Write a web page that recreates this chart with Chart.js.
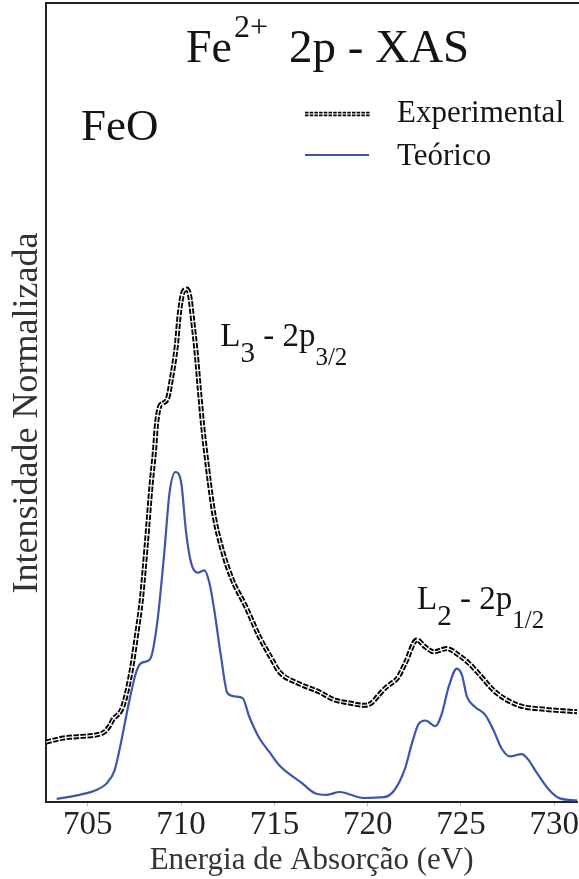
<!DOCTYPE html>
<html>
<head>
<meta charset="utf-8">
<script src="https://cdn.jsdelivr.net/npm/chart.js@4/dist/chart.umd.min.js"></script>
<style>
  html, body { margin: 0; padding: 0; background: #fff; overflow: hidden; }
  #wrap { width: 579px; height: 879px; }
</style>
</head>
<body>
<div id="wrap"><canvas id="c" width="579" height="879"></canvas></div>
<script>
// Fe2+ L-edge absorption of FeO: measured spectrum and calculated spectrum
const energyExp = [702.76, 703.68, 704.57, 705.46, 705.91, 706.18, 706.34, 706.87, 707.33, 707.60,
  707.87, 708.14, 708.40, 708.58, 708.67, 708.85, 709.02, 709.29, 709.47, 709.74,
  709.91, 710.09, 710.30, 710.45, 710.62, 710.81, 710.98, 711.16, 711.30, 711.52,
  711.78, 712.21, 712.75, 713.48, 714.19, 714.88, 715.26, 716.33, 717.39, 718.19,
  719.00, 719.80, 720.15, 720.60, 720.96, 721.29, 721.60, 722.02, 722.64, 723.09,
  723.54, 724.25, 724.87, 725.41, 725.94, 726.83, 728.08, 729.50, 731.23];
const intensityExp = [0.075, 0.080, 0.082, 0.084, 0.088, 0.096, 0.103, 0.119, 0.165, 0.207,
  0.253, 0.324, 0.399, 0.441, 0.470, 0.495, 0.499, 0.506, 0.528, 0.570,
  0.612, 0.637, 0.642, 0.635, 0.603, 0.562, 0.516, 0.470, 0.441, 0.399,
  0.357, 0.315, 0.278, 0.244, 0.207, 0.178, 0.163, 0.148, 0.138, 0.128,
  0.124, 0.121, 0.123, 0.134, 0.143, 0.149, 0.155, 0.174, 0.203, 0.194,
  0.188, 0.192, 0.184, 0.174, 0.161, 0.138, 0.121, 0.116, 0.113];

const energyTeo = [703.33, 704.57, 705.46, 706.00, 706.44, 706.75, 707.15, 707.60, 707.87, 708.31,
  708.49, 708.76, 709.11, 709.38, 709.70, 710.01, 710.27, 710.54, 710.89, 711.25,
  711.52, 711.78, 712.14, 712.49, 712.94, 713.30, 713.65, 714.19, 714.72, 715.26,
  716.46, 717.18, 717.82, 718.49, 719.78, 720.88, 721.44, 721.99, 722.38, 722.74,
  723.10, 723.63, 723.98, 724.34, 724.78, 725.05, 725.32, 725.76, 726.30, 726.74,
  727.18, 727.63, 728.25, 728.61, 728.97, 729.73, 730.30, 731.23];
const intensityTeo = [0.004, 0.009, 0.015, 0.023, 0.040, 0.071, 0.118, 0.163, 0.174, 0.178,
  0.190, 0.232, 0.315, 0.387, 0.413, 0.399, 0.337, 0.299, 0.287, 0.290,
  0.274, 0.240, 0.182, 0.136, 0.132, 0.130, 0.107, 0.080, 0.063, 0.046,
  0.024, 0.011, 0.009, 0.0125, 0.005, 0.006, 0.015, 0.041, 0.074, 0.098,
  0.102, 0.095, 0.111, 0.144, 0.167, 0.159, 0.132, 0.119, 0.109, 0.090,
  0.067, 0.057, 0.060, 0.053, 0.040, 0.015, 0.0045, 0.002];

const xTickValues = [705, 710, 715, 720, 725, 730];
const seriesNames = ['Experimental', 'Teórico'];

const SERIF = '"Liberation Serif", "DejaVu Serif", serif';
const BLUE = '#3d55ad';
const INK = '#141414';

const toPoints = (xs, ys) => xs.map((x, i) => ({ x, y: ys[i] }));

// Draws a run of text pieces (normal / sub / sup) starting at x on a baseline.
function drawRich(ctx, x, baseline, pieces) {
  let cx = x;
  for (const p of pieces) {
    ctx.font = p.size + 'px ' + SERIF;
    ctx.fillText(p.t, cx, baseline + (p.dy || 0));
    cx += ctx.measureText(p.t).width + (p.gap || 0);
  }
}

// The measured curve looks like a pair of parallel dashed black lines:
// a dashed black stroke with a thin white core running through it.
const OUTER_W = 5, OUTER_DASH = [5.5, 1.5], CORE_W = 1.2;
function doubleDash(ctx, x1, x2, y) {
  ctx.save();
  ctx.lineWidth = 4.4; ctx.strokeStyle = '#000'; ctx.setLineDash([3.5, 1.2]);
  ctx.beginPath(); ctx.moveTo(x1, y); ctx.lineTo(x2, y); ctx.stroke();
  ctx.lineWidth = CORE_W; ctx.strokeStyle = '#fff'; ctx.setLineDash([]);
  ctx.beginPath(); ctx.moveTo(x1 - 1, y); ctx.lineTo(x2 + 1, y); ctx.stroke();
  ctx.restore();
}

const decor = {
  id: 'decor',
  afterDraw(chart) {
    const { ctx, chartArea } = chart;
    const xs = chart.scales.x;
    ctx.save();
    // top frame line
    ctx.strokeStyle = '#222'; ctx.lineWidth = 2;
    ctx.beginPath(); ctx.moveTo(chartArea.left - 1, chartArea.top); ctx.lineTo(chart.width, chartArea.top); ctx.stroke();

    ctx.fillStyle = INK;
    ctx.textBaseline = 'alphabetic';
    ctx.textAlign = 'left';
    // title
    drawRich(ctx, 186, 62, [
      { t: 'Fe', size: 46, gap: 2 },
      { t: '2+', size: 32, dy: -25, gap: 21 },
      { t: '2p - XAS', size: 47 }
    ]);
    // sample name
    drawRich(ctx, 81, 140, [{ t: 'FeO', size: 45 }]);

    // legend
    doubleDash(ctx, 305, 370, 114);
    ctx.save();
    ctx.strokeStyle = BLUE; ctx.lineWidth = 2;
    ctx.beginPath(); ctx.moveTo(305, 155); ctx.lineTo(369, 155); ctx.stroke();
    ctx.restore();
    drawRich(ctx, 397, 122, [{ t: seriesNames[0], size: 31 }]);
    drawRich(ctx, 397, 165, [{ t: seriesNames[1], size: 31 }]);

    // edge labels
    drawRich(ctx, xs.getPixelForValue(712.1), 346, [
      { t: 'L', size: 33 },
      { t: '3', size: 29, dy: 16, gap: 0 },
      { t: ' - 2p', size: 33 },
      { t: '3/2', size: 25, dy: 19 }
    ]);
    drawRich(ctx, xs.getPixelForValue(722.65), 609, [
      { t: 'L', size: 33 },
      { t: '2', size: 29, dy: 16 },
      { t: ' - 2p', size: 33 },
      { t: '1/2', size: 25, dy: 19 }
    ]);

    // vertical axis title
    ctx.save();
    ctx.translate(28, 413);
    ctx.rotate(-Math.PI / 2);
    ctx.textAlign = 'center';
    ctx.textBaseline = 'middle';
    ctx.font = '36px ' + SERIF;
    ctx.fillStyle = '#333';
    ctx.fillText('Intensidade Normalizada', 0, 0);
    ctx.restore();
    ctx.restore();
  }
};

const lineBase = { pointRadius: 0, cubicInterpolationMode: 'monotone', fill: false };

new Chart(document.getElementById('c'), {
  type: 'line',
  data: {
    datasets: [
      // white core sits on top of the dashed black stroke (first dataset is painted last)
      { ...lineBase, label: seriesNames[0] + ' core', data: toPoints(energyExp, intensityExp),
        borderColor: '#fff', borderWidth: CORE_W },
      { ...lineBase, label: seriesNames[0], data: toPoints(energyExp, intensityExp),
        borderColor: '#000', borderWidth: OUTER_W, borderDash: OUTER_DASH },
      { ...lineBase, label: seriesNames[1], data: toPoints(energyTeo, intensityTeo),
        borderColor: BLUE, borderWidth: 2.2 }
    ]
  },
  options: {
    responsive: false,
    devicePixelRatio: 1,
    animation: false,
    layout: { padding: { top: 3, right: 0, left: 0, bottom: 0 } },
    plugins: { legend: { display: false }, tooltip: { enabled: false } },
    scales: {
      x: {
        type: 'linear', min: 702.76, max: 731.23,
        afterBuildTicks: s => { s.ticks = xTickValues.map(v => ({ value: v })); },
        afterFit: s => { s.height = 77; },
        ticks: { font: { family: SERIF, size: 33 }, color: '#222', padding: 0, maxRotation: 0 },
        grid: { display: true, drawOnChartArea: false, drawTicks: true, tickLength: 4, color: '#bbb' },
        border: { display: true, color: '#222', width: 2 },
        title: { display: true, text: 'Energia de Absorção (eV)', font: { family: SERIF, size: 31 }, color: '#333', padding: { top: 0, bottom: 0 } }
      },
      y: {
        min: 0, max: 1,
        afterFit: s => { s.width = 46; },
        ticks: { display: false },
        grid: { display: false },
        border: { display: true, color: '#222', width: 2 },
        title: { display: false }
      }
    }
  },
  plugins: [decor]
});
</script>
</body>
</html>
